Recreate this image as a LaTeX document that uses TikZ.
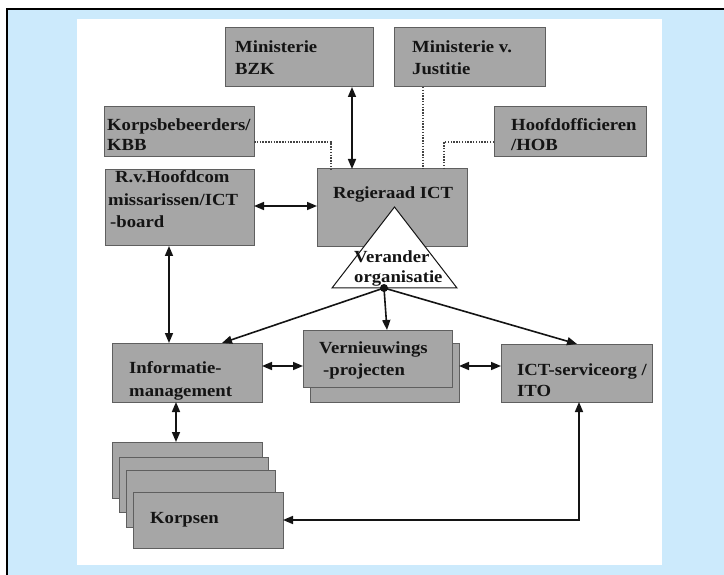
\documentclass[tikz,border=0pt]{standalone}
\usepackage{fontspec}
\setmainfont{Liberation Serif}[FakeStretch=1.1]
\usetikzlibrary{arrows.meta}
\definecolor{bgblue}{RGB}{204,234,252}
\definecolor{boxgray}{RGB}{166,166,166}
\definecolor{boxedge}{RGB}{95,95,95}
\definecolor{ink}{RGB}{20,20,20}
\begin{document}
\begin{tikzpicture}[x=1pt,y=-1pt,
  box/.style={draw=boxedge, line width=1pt, fill=boxgray, inner sep=0pt, outer sep=0pt, anchor=north west,
    append after command={[draw=ink!80, line width=1.4pt] (\tikzlastnode.south west) -- (\tikzlastnode.south east)}},
  lbl/.style={anchor=base west, inner sep=0pt, text=ink, font=\fontsize{17}{20}\selectfont\bfseries},
  arr/.style={draw=ink, line width=1.6pt, -{Triangle[length=10pt,width=8pt]}},
  dbl/.style={draw=ink, line width=1.6pt, {Triangle[length=10pt,width=8pt]}-{Triangle[length=10pt,width=8pt]}},
  dot/.style={draw=ink!80, line width=1.6pt, dash pattern=on 1.5pt off 1.3pt}]
\useasboundingbox (0,0) rectangle (724,575);
\fill[white] (0,0) rectangle (724,575);
\fill[bgblue] (7,9) rectangle (724,575);
\draw[black, line width=2pt] (7,575) -- (7,9) -- (724,9);
\fill[white] (77,19) rectangle (662,565);

% boxes
\node[box, minimum width=148pt, minimum height=59pt] (bzk) at (225,28) {};
\node[box, minimum width=151pt, minimum height=59pt] (jus) at (394,28) {};
\node[box, minimum width=150pt, minimum height=50pt] (kbb) at (104,107) {};
\node[box, minimum width=152pt, minimum height=50pt] (hob) at (494,107) {};
\node[box, minimum width=149pt, minimum height=76pt] (rvh) at (105,170) {};
\node[box, minimum width=150pt, minimum height=78pt] (rict) at (317,169) {};
\node[box, minimum width=150pt, minimum height=59pt] (info) at (112,343) {};
\node[box, minimum width=149pt, minimum height=59pt] (vernb) at (310,343) {};
\node[box, minimum width=149pt, minimum height=57pt] (vernf) at (303,330) {};
\node[box, minimum width=151pt, minimum height=58pt] (ict) at (501,344) {};
\node[box, minimum width=150pt, minimum height=56pt] (k1) at (112,442) {};
\node[box, minimum width=149pt, minimum height=55pt] (k2) at (119,457) {};
\node[box, minimum width=149pt, minimum height=57pt] (k3) at (126,470) {};
\node[box, minimum width=150pt, minimum height=56pt] (k4) at (133,492) {};

% triangle
\coordinate (apex) at (394.5,207);
\coordinate (bl) at (332,288);
\coordinate (br) at (457,288);
\filldraw[fill=white, draw=ink, line width=1pt] (apex) -- (bl) -- (br) -- cycle;

% labels
\node[lbl] (tbzk1) at (235,53) {Ministerie};
\node[lbl] (tbzk2) at (235,75) {BZK};
\node[lbl] (tjus1) at (412,53) {Ministerie v.};
\node[lbl] (tjus2) at (412,75) {Justitie};
\node[lbl] (tkbb1) at (107,131) {Korpsbebeerders/};
\node[lbl] (tkbb2) at (107,151) {KBB};
\node[lbl] (thob1) at (511,131) {Hoofdofficieren};
\node[lbl] (thob2) at (511,151) {/HOB};
\node[lbl] (trvh1) at (115,183) {R.v.Hoofdcom};
\node[lbl] (trvh2) at (108,206) {missarissen/ICT};
\node[lbl] (trvh3) at (110,228) {-board};
\node[lbl] (trict) at (333,199) {Regieraad ICT};
\node[lbl] (tver1) at (354,263) {Verander};
\node[lbl] (tver2) at (354,283) {organisatie};
\node[lbl] (tinf1) at (129,373) {Informatie-};
\node[lbl] (tinf2) at (129,396) {management};
\node[lbl] (tvrn1) at (319,353) {Vernieuwings};
\node[lbl] (tvrn2) at (323,375) {-projecten};
\node[lbl] (tict1) at (517,375) {ICT-serviceorg /};
\node[lbl] (tict2) at (517,396) {ITO};
\node[lbl] (tkor) at (150,523) {Korpsen};

% connectors
\coordinate (xbzk) at (352,0);
\draw[dbl] (bzk.south -| xbzk) -- (rict.north -| xbzk);
\coordinate (xjus) at (423,0);
\draw[dot] (jus.south -| xjus) -- (rict.north -| xjus);
\coordinate (kbbc) at (331,142);
\draw[dot] (kbb.east |- kbbc) -- (kbbc) -- (rict.north -| kbbc);
\coordinate (hobc) at (444,142);
\draw[dot] (hob.west |- hobc) -- (hobc) -- (rict.north -| hobc);
\coordinate (yrv) at (0,206);
\draw[dbl] (rvh.east |- yrv) -- (rict.west |- yrv);
\coordinate (xrv) at (169,0);
\draw[dbl] (rvh.south -| xrv) -- (info.north -| xrv);
\coordinate (hub) at (384,288);
\coordinate (xinf) at (222,0);
\coordinate (xvrn) at (387,0);
\coordinate (xict) at (577,0);
\draw[arr] (hub) -- (info.north -| xinf);
\draw[arr] (hub) -- (vernf.north -| xvrn);
\draw[arr] (hub) -- (ict.north -| xict);
\fill[ink] (hub) circle (4pt);
\coordinate (yiv) at (0,366);
\draw[dbl] (info.east |- yiv) -- (vernf.west |- yiv);
\draw[dbl] (vernb.east |- yiv) -- (ict.west |- yiv);
\coordinate (xik) at (176,0);
\draw[dbl] (info.south -| xik) -- (k1.north -| xik);
\coordinate (xck) at (579,0);
\coordinate (yck) at (0,520);
\draw[dbl] (ict.south -| xck) -- (xck |- yck) -- (k4.east |- yck);
\end{tikzpicture}
\end{document}
